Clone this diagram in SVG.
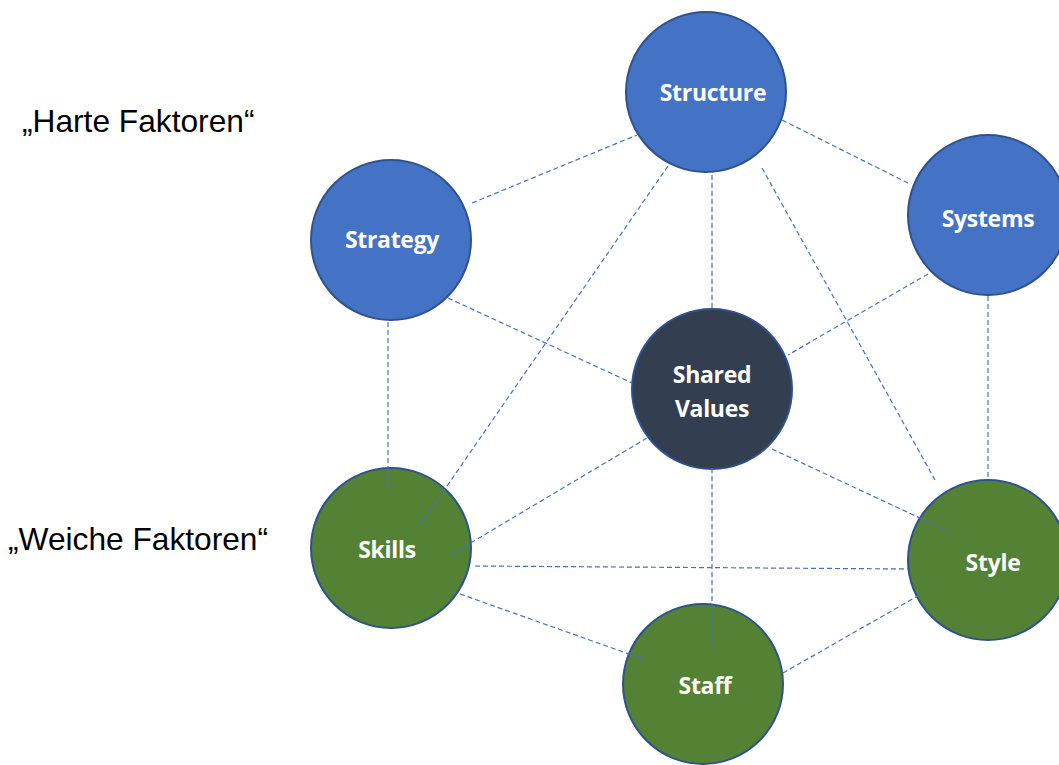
<svg xmlns="http://www.w3.org/2000/svg" width="1059" height="765" viewBox="0 0 1059 765">
<style>
.blue{fill:#4472C4;stroke:#2F528F;stroke-width:2}
.green{fill:#548235;stroke:#2F528F;stroke-width:2}
.dark{fill:#333F50;stroke:#2F528F;stroke-width:2}
.lbl{font-family:"Open Sans","Noto Sans",sans-serif;font-weight:bold;font-size:23px;letter-spacing:-0.3px;fill:#FFFFFF;text-anchor:middle}
.side{font-family:"Liberation Sans",Arial,sans-serif;font-size:31.7px;fill:#000000}
.con line{stroke:#4472C4;stroke-width:1.2;stroke-dasharray:5 3;fill:none}
</style>
<rect width="1059" height="765" fill="#FFFFFF"/>
<text class="side" x="22" y="132">„Harte Faktoren“</text>
<text class="side" x="8" y="550">„Weiche Faktoren“</text>
<g id="node-structure"><circle class="blue" cx="706" cy="92" r="80"/><text class="lbl" x="713" y="101">Structure</text></g>
<g id="node-strategy"><circle class="blue" cx="391" cy="240" r="80"/><text class="lbl" x="392" y="248">Strategy</text></g>
<g id="node-systems"><circle class="blue" cx="988" cy="215" r="80"/><text class="lbl" x="988" y="227">Systems</text></g>
<g id="node-shared-values"><circle class="dark" cx="712" cy="389" r="80"/><text class="lbl" x="712" y="383">Shared</text><text class="lbl" x="712" y="417">Values</text></g>
<g id="node-skills"><circle class="green" cx="391" cy="548" r="80"/><text class="lbl" x="387" y="558">Skills</text></g>
<g id="node-style"><circle class="green" cx="988" cy="560" r="80"/><text class="lbl" x="993" y="571">Style</text></g>
<g id="node-staff"><circle class="green" cx="703" cy="684" r="80"/><text class="lbl" x="705" y="694">Staff</text></g>
<g id="connectors" class="con">
<line x1="472" y1="203" x2="637" y2="135"/>
<line x1="782" y1="120" x2="908" y2="183"/>
<line x1="712" y1="175" x2="712" y2="309"/>
<line x1="668" y1="166" x2="418" y2="528"/>
<line x1="762" y1="168" x2="935" y2="480"/>
<line x1="448" y1="298" x2="632" y2="383"/>
<line x1="388" y1="322" x2="388" y2="488"/>
<line x1="928" y1="274" x2="788" y2="355"/>
<line x1="988" y1="296" x2="988" y2="480"/>
<line x1="647" y1="438" x2="447" y2="557"/>
<line x1="772" y1="449" x2="952" y2="533"/>
<line x1="712" y1="468" x2="712" y2="648"/>
<line x1="475" y1="566" x2="908" y2="569"/>
<line x1="460" y1="594" x2="643" y2="659"/>
<line x1="783" y1="673" x2="923" y2="593"/>
</g>
</svg>
